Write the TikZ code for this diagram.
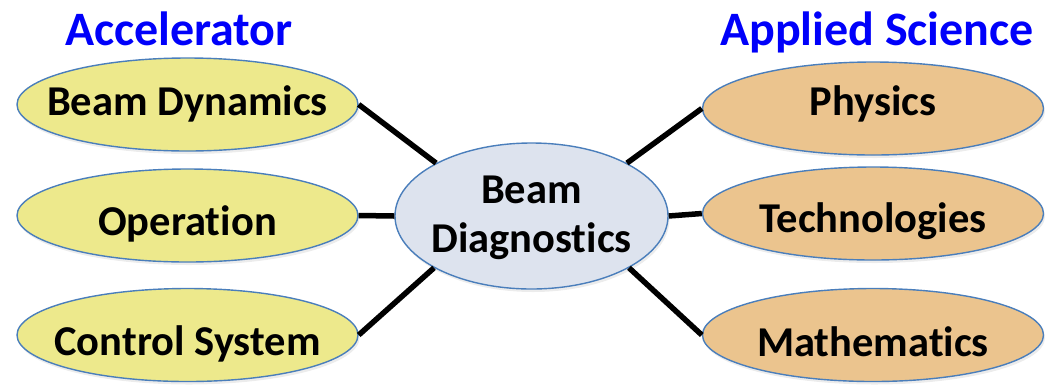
\documentclass[tikz,border=0pt]{standalone}
\usepackage{fontspec}
\setmainfont{Carlito}[Ligatures=NoCommon]
\usetikzlibrary{shapes.geometric,shadows}
\definecolor{accfill}{RGB}{237,233,140}
\definecolor{appfill}{RGB}{235,196,142}
\definecolor{diagfill}{RGB}{221,227,238}
\definecolor{ringblue}{RGB}{74,126,187}
\definecolor{headblue}{RGB}{0,0,250}
\tikzset{
  bubble/.style={ellipse, draw=ringblue, line width=1.4pt, inner sep=0pt,
    drop shadow={opacity=0.15, shadow xshift=1.5pt, shadow yshift=-3pt}},
  topic/.style={bubble, minimum width=341pt, minimum height=93pt},
  acc/.style={topic, fill=accfill},
  app/.style={topic, fill=appfill},
  hub/.style={bubble, fill=diagfill, minimum width=273pt, minimum height=146pt},
  caption/.style={anchor=base, inner sep=0pt,
    font=\fontsize{42.5}{49}\selectfont\bfseries},
  heading/.style={anchor=base, inner sep=0pt, text=headblue,
    font=\fontsize{48}{56}\selectfont\bfseries},
  link/.style={line width=5.5pt, black}
}
\begin{document}
\begin{tikzpicture}[x=1pt, y=-1pt]
  \useasboundingbox (0,0) rectangle (1048,384);

  % column headings
  \node[heading] (hacc) at (179,45) {Accelerator};
  \node[heading] (happ) at (877,45) {Applied Science};

  % central bubble
  \node[hub] (diag) at (531.5,216) {};
  \node[caption] (diagt1) at (531.5,203) {Beam};
  \node[caption] (diagt2) at (531.5,252) {Diagnostics};

  % accelerator topics
  \node[acc] (bd) at (187.5,104.5) {};
  \node[caption] (bdt) at (187.5,115) {Beam Dynamics};
  \node[acc] (op) at (187.5,215.5) {};
  \node[caption] (opt) at (187.5,235) {Operation};
  \node[acc] (cs) at (187.5,335) {};
  \node[caption] (cst) at (187.5,355) {Control System};

  % applied-science topics
  \node[app] (ph) at (873,108.5) {};
  \node[caption] (pht) at (873,115) {Physics};
  \node[app] (te) at (873,213.5) {};
  \node[caption] (tet) at (873,232) {Technologies};
  \node[app] (ma) at (873,335) {};
  \node[caption] (mat) at (873,356) {Mathematics};

  % spokes
  \draw[link] (bd.east) -- (diag.151);
  \draw[link] (op.east) -- (diag.west);
  \draw[link] (cs.east) -- (diag.208);
  \draw[link] (ph.west) -- (diag.29);
  \draw[link] (te.west) -- (diag.east);
  \draw[link] (ma.west) -- (diag.-28);
\end{tikzpicture}
\end{document}
